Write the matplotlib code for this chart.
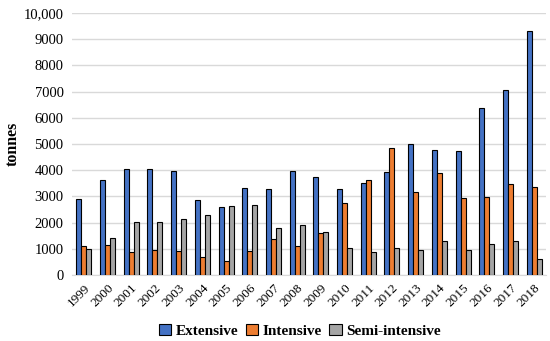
import numpy as np
import matplotlib
matplotlib.use("Agg")
import matplotlib.pyplot as plt

plt.rcParams['font.family'] = ['Liberation Serif', 'DejaVu Serif']

years = [str(y) for y in range(1999, 2019)]
extensive = [2900, 3630, 4060, 4030, 3980, 2870, 2610, 3310, 3290, 3980,
             3730, 3270, 3500, 3920, 5010, 4760, 4750, 6370, 7060, 9310]
intensive = [1090, 1150, 860, 960, 900, 680, 540, 900, 1390, 1090,
             1620, 2730, 3640, 4850, 3170, 3910, 2930, 2990, 3480, 3340]
semi = [980, 1410, 2040, 2010, 2150, 2280, 2640, 2690, 1790, 1920,
        1660, 1020, 880, 1040, 970, 1290, 940, 1170, 1290, 610]

yticks = [0, 1000, 2000, 3000, 4000, 5000, 6000, 7000, 8000, 9000, 10000]
ytick_labels = ['0', '1000', '2000', '3000', '4000', '5000', '6000', '7000',
                '8000', '9000', '10,000']

fig = plt.figure(figsize=(5.5, 3.41), dpi=100)
ax = fig.add_axes([72/550, 66/341, 474/550, 262/341])

x = np.arange(len(years))
w = 0.21
ax.bar(x - w, extensive, w, color='#4472C4', edgecolor='black', linewidth=0.8, label='Extensive', zorder=3)
ax.bar(x, intensive, w, color='#ED7D31', edgecolor='black', linewidth=0.8, label='Intensive', zorder=3)
ax.bar(x + w, semi, w, color='#A5A5A5', edgecolor='black', linewidth=0.8, label='Semi-intensive', zorder=3)

ax.set_xlim(-0.5, len(years) - 0.5)
ax.set_ylim(0, 10000)
ax.set_yticks(yticks)
ax.set_yticklabels(ytick_labels, fontsize=10.5)
ax.set_xticks(x)
ax.set_xticklabels(years, rotation=45, fontsize=9.5, ha='right', rotation_mode='anchor')
ax.tick_params(length=0, pad=6)
ax.tick_params(axis='x', pad=5)
ax.grid(axis='y', color='#D9D9D9', linewidth=1, zorder=0)
for s in ['top', 'right', 'left']:
    ax.spines[s].set_visible(False)
ax.spines['bottom'].set_color('#D9D9D9')
ax.set_ylabel('tonnes', fontsize=11.5, fontweight='bold', labelpad=2)

fig.legend(loc='center', bbox_to_anchor=(0.545, 0.03), ncol=3, frameon=False,
           prop={'size': 11, 'weight': 'bold'}, handlelength=0.8, handleheight=0.8,
           handletextpad=0.3, columnspacing=0.5, borderpad=0)

fig.savefig('out.png', dpi=100)
